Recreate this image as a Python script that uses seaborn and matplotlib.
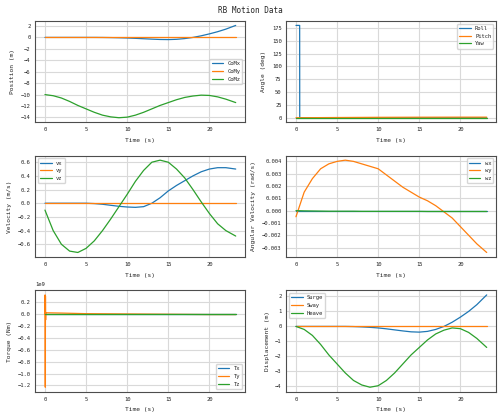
import matplotlib
matplotlib.use("Agg")
import matplotlib.pyplot as plt
import seaborn as sns

t = [0, 1, 2, 3, 4, 5, 6, 7, 8, 9, 10, 11, 12, 13, 14, 15, 16, 17, 18, 19, 20, 21, 22, 23.2]

com_x = [0, 0, 0, 0, 0, 0, 0, -0.01, -0.03, -0.06, -0.1, -0.16, -0.23, -0.3, -0.36, -0.38, -0.33, -0.2, 0.0, 0.28, 0.62, 1.0, 1.45, 2.1]
com_y = [0] * 24
com_z = [-10, -10.2, -10.6, -11.2, -11.9, -12.5, -13.1, -13.6, -13.9, -14.05, -13.95, -13.6, -13.1, -12.5, -11.9, -11.4, -10.9, -10.5, -10.25, -10.1, -10.15, -10.4, -10.8, -11.4]

t_ang = [0, 0.45, 0.46, 5, 10, 15, 20, 23.2]
roll = [180, 180, 0, 0, 0, 0, 0, 0]
pitch = [0, 0, 0, 0.4, 0.8, 1.0, 1.1, 1.1]
yaw = [0, 0, 0, 0, 0, 0, 0, 0]

vx = [0, 0, 0, 0, 0, 0, -0.005, -0.015, -0.03, -0.045, -0.055, -0.06, -0.05, 0.0, 0.08, 0.18, 0.26, 0.33, 0.4, 0.46, 0.5, 0.52, 0.52, 0.5]
vy = [0] * 24
vz = [-0.1, -0.4, -0.6, -0.7, -0.72, -0.66, -0.55, -0.4, -0.23, -0.05, 0.13, 0.32, 0.48, 0.6, 0.63, 0.6, 0.5, 0.37, 0.2, 0.02, -0.15, -0.3, -0.4, -0.48]

wx = [0] * 24
wy = [-0.0005, 0.0015, 0.0026, 0.0034, 0.0038, 0.004, 0.0041, 0.004, 0.0038, 0.0036, 0.0034, 0.0029, 0.0024, 0.0019, 0.0015, 0.0011, 0.0008, 0.0004, -0.0001, -0.0006, -0.0013, -0.002, -0.0027, -0.0034]
wz = [0, -0.00002, -0.00003, -0.00004, -0.00005, -0.00005, -0.00005, -0.00005, -0.00006, -0.00006, -0.00006, -0.00006, -0.00006, -0.00006, -0.00006, -0.00006, -0.00007, -0.00007, -0.00007, -0.00007, -0.00007, -0.00007, -0.00007, -0.00007]

t_tq = [0, 0.02, 0.04, 0.06, 0.08, 0.1, 2, 5, 10, 15, 20, 23.2]
tx = [0, 0, 0, 0, 0, 0, 0, 0, 0, 0, 0, 0]
ty = [0, 0.32, -1.23, 0.3, -0.1, 0.02, 0.015, 0.005, 0.0, -0.005, -0.01, -0.01]
tz = [0, 0, 0, 0, 0, 0, 0, 0, 0, 0, 0, 0]

surge = com_x
sway = com_y
heave = [z + 10 for z in com_z]

sns.set_style("whitegrid", {"axes.edgecolor": "0.3", "grid.color": "0.85"})
plt.rcParams["font.family"] = ["DejaVu Sans Mono"]
plt.rcParams["font.size"] = 4.5

fig, axes = plt.subplots(3, 2, figsize=(5, 4.16), dpi=100)
fig.suptitle("RB Motion Data", fontsize=5.5, y=0.985)

def panel(ax, x, series, labels, ylabel, loc):
    for s, lab in zip(series, labels):
        sns.lineplot(x=x, y=s, ax=ax, label=lab, linewidth=0.9)
    ax.set_xlabel("Time (s)")
    ax.set_ylabel(ylabel)
    ax.tick_params(labelsize=4, length=2, pad=1.5)
    ax.legend(loc=loc, fontsize=4, frameon=True)
    ax.set_xticks([0, 5, 10, 15, 20])

panel(axes[0, 0], t, [com_x, com_y, com_z], ["CoMx", "CoMy", "CoMz"], "Position (m)", "center right")
panel(axes[0, 1], t_ang, [roll, pitch, yaw], ["Roll", "Pitch", "Yaw"], "Angle (deg)", "upper right")
panel(axes[1, 0], t, [vx, vy, vz], ["vx", "vy", "vz"], "Velocity (m/s)", "upper left")
panel(axes[1, 1], t, [wx, wy, wz], ["wx", "wy", "wz"], "Angular Velocity (rad/s)", "upper right")
panel(axes[2, 0], t_tq, [[v * 1e9 for v in tx], [v * 1e9 for v in ty], [v * 1e9 for v in tz]], ["Tx", "Ty", "Tz"], "Torque (Nm)", "lower right")
panel(axes[2, 1], t, [surge, sway, heave], ["Surge", "Sway", "Heave"], "Displacement (m)", "upper left")

axes[0, 1].set_yticks([0, 25, 50, 75, 100, 125, 150, 175])
axes[2, 0].yaxis.get_offset_text().set_fontsize(4)

fig.tight_layout(pad=0.6, h_pad=0.8, w_pad=1.0)
fig.subplots_adjust(top=0.95)
fig.savefig("out.png", dpi=100)
